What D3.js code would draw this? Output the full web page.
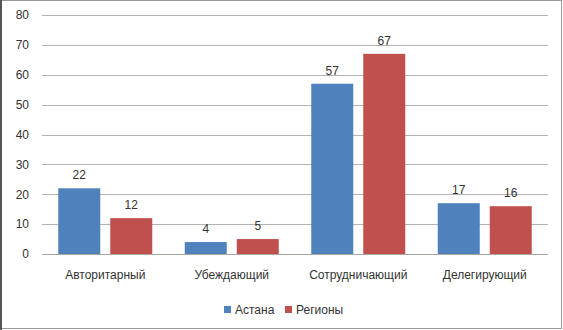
<!DOCTYPE html>
<html><head><meta charset="utf-8">
<script src="https://cdn.jsdelivr.net/npm/d3@7"></script>
<style>body{margin:0;background:#fff}svg{display:block}</style>
</head><body>
<script>
const categories = ["Авторитарный","Убеждающий","Сотрудничающий","Делегирующий"];
const seriesNames = ["Астана","Регионы"];
const astana = [22,4,57,17];
const regiony = [12,5,67,16];
const yTicks = [0,10,20,30,40,50,60,70,80];
const colors = ["#4f81bd","#c0504d"];

(function(){
const W=563,H=330;
const svg=d3.select("body").append("svg").attr("width",W).attr("height",H);
const font="'Liberation Sans', Arial, sans-serif";
const pL=42,pR=548,pT=15,pB=254;
const x=d3.scaleBand().domain(categories).range([pL,pR]);
const y=d3.scaleLinear().domain([0,80]).range([pB,pT]);
const bw=42, gap=10;

// border
svg.append("rect").attr("x",0.5).attr("y",0.5).attr("width",561).attr("height",328)
  .attr("fill","none").attr("stroke","#999");
svg.append("line").attr("x1",1).attr("x2",1).attr("y1",0).attr("y2",330).attr("stroke","#555").attr("stroke-width",2);

// grid
svg.append("g").selectAll("line").data(yTicks.filter(d=>d>0)).join("line")
  .attr("x1",pL).attr("x2",pR).attr("y1",d=>Math.round(y(d))+0.5).attr("y2",d=>Math.round(y(d))+0.5)
  .attr("stroke","#b3b3b3").attr("stroke-width",1);

// y labels
const yAxis=d3.axisLeft(y).tickValues(yTicks).tickSize(0).tickPadding(13);
const ga=svg.append("g").attr("transform",`translate(${pL},0)`).call(yAxis);
ga.select(".domain").remove();
ga.selectAll("text").attr("font-family",font).attr("font-size",12).attr("fill","#333");

const data=[astana,regiony];
data.forEach((vals,si)=>{
  const off = si===0 ? -gap/2-bw : gap/2;
  const g=svg.append("g");
  g.selectAll("rect").data(vals).join("rect")
    .attr("x",(d,i)=>x(categories[i])+x.bandwidth()/2+off)
    .attr("width",bw)
    .attr("y",d=>y(d)).attr("height",d=>pB-y(d))
    .attr("fill",colors[si]);
  g.selectAll("text").data(vals).join("text")
    .attr("x",(d,i)=>x(categories[i])+x.bandwidth()/2+off+bw/2)
    .attr("y",d=>y(d)-9)
    .attr("text-anchor","middle").attr("font-family",font).attr("font-size",12).attr("fill","#333")
    .text(d=>d);
});

// baseline
svg.append("line").attr("x1",pL).attr("x2",pR).attr("y1",pB+0.5).attr("y2",pB+0.5)
  .attr("stroke","#a8a8a0");

// x labels
const xAxis=d3.axisBottom(x).tickSize(0).tickPadding(16);
const gx=svg.append("g").attr("transform",`translate(0,${pB})`).call(xAxis);
gx.select(".domain").remove();
gx.selectAll("text").attr("font-family",font).attr("font-size",12).attr("fill","#333");

// legend
const legX=[224,285];
const lg=svg.append("g");
seriesNames.forEach((n,i)=>{
  lg.append("rect").attr("x",legX[i]).attr("y",306).attr("width",7).attr("height",7).attr("fill",colors[i]);
  lg.append("text").attr("x",legX[i]+11).attr("y",314).attr("font-family",font).attr("font-size",12).attr("fill","#333").text(n);
});
})();
</script>
</body></html>
